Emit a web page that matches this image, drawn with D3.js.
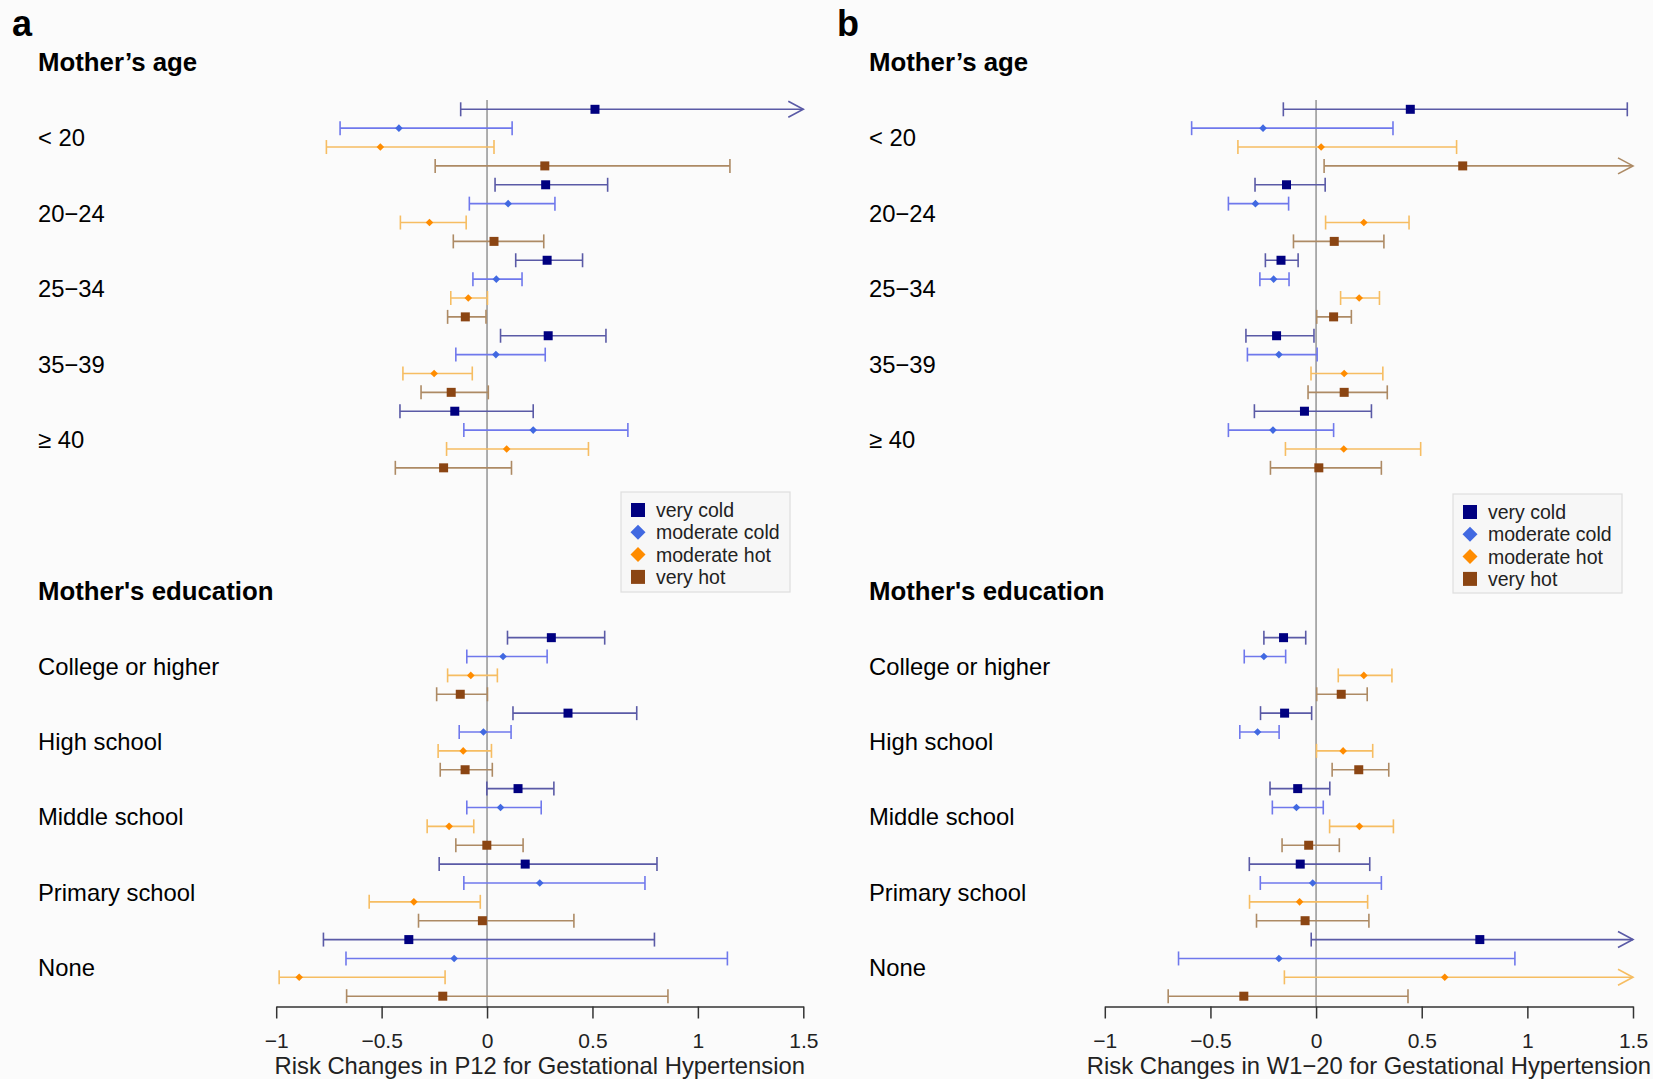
<!DOCTYPE html>
<html><head><meta charset="utf-8">
<script src="https://cdn.jsdelivr.net/npm/d3@7"></script>
<style>body{margin:0;background:#fbfbfb} svg{display:block;font-family:"Liberation Sans",Arial,sans-serif}</style>
</head><body><svg id="c" width="1653" height="1079"></svg>
<script>
// ---------- data ----------
const seriesNames = ["very cold", "moderate cold", "moderate hot", "very hot"];
const seriesColors = ["#000080", "#4169E1", "#FF8C00", "#8B4513"];
const seriesLineColors = ["#5a5aa6", "#6f78ec", "#f6bd62", "#ad8a64"];
const seriesShapes = ["square", "diamond", "diamond", "square"];
const ageGroups = ["< 20", "20\u221224", "25\u221234", "35\u221239", "\u2265 40"];
const eduGroups = ["College or higher", "High school", "Middle school", "Primary school", "None"];
const xTicks = [-1, -0.5, 0, 0.5, 1, 1.5];
const xTickLabels = ["\u22121", "\u22120.5", "0", "0.5", "1", "1.5"];

// rows: [estimate, lower, upper], ordered group by group, series within group
const p12Age = [
  [0.512, -0.125, 1.9], [-0.418, -0.697, 0.119], [-0.506, -0.762, 0.033], [0.274, -0.246, 1.152],
  [0.278, 0.038, 0.572], [0.100, -0.084, 0.322], [-0.273, -0.411, -0.099], [0.033, -0.160, 0.269],
  [0.285, 0.136, 0.453], [0.044, -0.067, 0.166], [-0.089, -0.172, 0.002], [-0.103, -0.187, -0.005],
  [0.290, 0.064, 0.564], [0.042, -0.148, 0.276], [-0.251, -0.399, -0.070], [-0.170, -0.313, 0.006],
  [-0.153, -0.413, 0.219], [0.219, -0.110, 0.668], [0.093, -0.192, 0.481], [-0.206, -0.435, 0.116]
];
const p12Edu = [
  [0.305, 0.097, 0.558], [0.076, -0.096, 0.285], [-0.077, -0.187, 0.049], [-0.127, -0.239, 0.002],
  [0.384, 0.123, 0.710], [-0.017, -0.132, 0.114], [-0.113, -0.232, 0.021], [-0.104, -0.222, 0.025],
  [0.147, -0.001, 0.317], [0.064, -0.096, 0.257], [-0.180, -0.284, -0.063], [-0.001, -0.148, 0.171],
  [0.181, -0.227, 0.806], [0.250, -0.110, 0.749], [-0.347, -0.559, -0.032], [-0.022, -0.325, 0.412],
  [-0.371, -0.776, 0.794], [-0.156, -0.669, 1.140], [-0.891, -0.986, -0.199], [-0.210, -0.666, 0.858]
];
const w120Age = [
  [0.446, -0.155, 1.473], [-0.251, -0.589, 0.364], [0.024, -0.370, 0.665], [0.694, 0.038, 1.9],
  [-0.140, -0.289, 0.043], [-0.287, -0.415, -0.130], [0.226, 0.045, 0.440], [0.086, -0.107, 0.321],
  [-0.166, -0.240, -0.085], [-0.201, -0.266, -0.128], [0.204, 0.116, 0.300], [0.083, 0.003, 0.167],
  [-0.187, -0.332, -0.010], [-0.176, -0.325, 0.005], [0.133, -0.024, 0.316], [0.133, -0.038, 0.337],
  [-0.055, -0.292, 0.262], [-0.204, -0.415, 0.083], [0.131, -0.145, 0.495], [0.013, -0.216, 0.309]
];
const w120Edu = [
  [-0.154, -0.247, -0.049], [-0.247, -0.340, -0.144], [0.226, 0.105, 0.359], [0.119, 0.003, 0.242],
  [-0.149, -0.263, -0.021], [-0.277, -0.361, -0.175], [0.128, 0.002, 0.268], [0.202, 0.076, 0.344],
  [-0.087, -0.218, 0.065], [-0.093, -0.207, 0.034], [0.205, 0.064, 0.366], [-0.035, -0.161, 0.110],
  [-0.075, -0.316, 0.254], [-0.016, -0.264, 0.309], [-0.078, -0.315, 0.244], [-0.052, -0.282, 0.250],
  [0.775, -0.023, 1.9], [-0.176, -0.651, 0.941], [0.609, -0.150, 1.9], [-0.342, -0.700, 0.435]
];

// ---------- layout ----------
const svg = d3.select("#c");
const y = d3.scaleLinear().domain([0, 47]).range([109.3, 109.3 + 47 * 18.87]);
const axisY = 1006.5;
const ageStart = 0, eduStart = 28;

const panels = [
  { letter: "a", letterX: 12, labelX: 38, range: [276.2, 803.3], age: p12Age, edu: p12Edu,
    title: "Risk Changes in P12 for Gestational Hypertension", legend: { x: 621, y: 492, w: 169, h: 100 } },
  { letter: "b", letterX: 837, labelX: 869, range: [1104.8, 1633], age: w120Age, edu: w120Edu,
    title: "Risk Changes in W1\u221220 for Gestational Hypertension", legend: { x: 1453, y: 494, w: 169, h: 99 } }
];

function symbolPath(shape, cx, cy, s) {
  if (shape === "square") return `M${cx - s},${cy - s}H${cx + s}V${cy + s}H${cx - s}Z`;
  return `M${cx},${cy - s}L${cx + s},${cy}L${cx},${cy + s}L${cx - s},${cy}Z`;
}

panels.forEach(p => {
  const x = d3.scaleLinear().domain([-1, 1.5]).range(p.range);
  const g = svg.append("g");

  // panel letter
  g.append("text").attr("x", p.letterX).attr("y", 36).attr("font-size", 36).attr("font-weight", "bold").text(p.letter);

  // headings
  g.append("text").attr("x", p.labelX).attr("y", y(-2.5)).attr("dy", "0.36em")
    .attr("font-size", 25.8).attr("font-weight", "bold").text("Mother\u2019s age");
  g.append("text").attr("x", p.labelX).attr("y", y(25.5)).attr("dy", "0.36em")
    .attr("font-size", 25.8).attr("font-weight", "bold").text("Mother's education");

  // group labels
  ageGroups.forEach((lab, i) => g.append("text").attr("x", p.labelX).attr("y", y(ageStart + 4 * i + 1.5))
    .attr("dy", "0.36em").attr("font-size", 23.8).text(lab));
  eduGroups.forEach((lab, i) => g.append("text").attr("x", p.labelX).attr("y", y(eduStart + 4 * i + 1.5))
    .attr("dy", "0.36em").attr("font-size", 23.8).text(lab));

  // zero line
  g.append("line").attr("x1", x(0)).attr("x2", x(0)).attr("y1", 100).attr("y2", axisY)
    .attr("stroke", "#a5a5a5").attr("stroke-width", 1.8);

  // error bars
  const rows = [];
  p.age.forEach((r, i) => rows.push({ pos: ageStart + i, s: i % 4, est: r[0], lo: r[1], hi: r[2] }));
  p.edu.forEach((r, i) => rows.push({ pos: eduStart + i, s: i % 4, est: r[0], lo: r[1], hi: r[2] }));

  rows.forEach(r => {
    const yy = y(r.pos);
    const col = seriesLineColors[r.s];
    const arrow = r.hi > 1.5;
    const x1 = x(r.lo), x2 = x(Math.min(r.hi, 1.5));
    g.append("line").attr("x1", x1).attr("x2", x2).attr("y1", yy).attr("y2", yy)
      .attr("stroke", col).attr("stroke-width", 1.6);
    g.append("line").attr("x1", x1).attr("x2", x1).attr("y1", yy - 7).attr("y2", yy + 7)
      .attr("stroke", col).attr("stroke-width", 1.6);
    if (arrow) {
      g.append("path").attr("d", `M${x2 - 15},${yy - 8}L${x2},${yy}L${x2 - 15},${yy + 8}`)
        .attr("fill", "none").attr("stroke", col).attr("stroke-width", 1.6);
    } else {
      g.append("line").attr("x1", x2).attr("x2", x2).attr("y1", yy - 7).attr("y2", yy + 7)
        .attr("stroke", col).attr("stroke-width", 1.6);
    }
    const sz = seriesShapes[r.s] === "square" ? 4.5 : 3.8;
    g.append("path").attr("d", symbolPath(seriesShapes[r.s], x(r.est), yy, sz)).attr("fill", seriesColors[r.s]);
  });

  // x axis
  const ax = g.append("g").attr("transform", `translate(0,${axisY})`)
    .call(d3.axisBottom(x).tickValues(xTicks).tickFormat((d, i) => xTickLabels[i]).tickSize(12).tickSizeOuter(0));
  ax.select(".domain").attr("stroke", "#333").attr("stroke-width", 1.5);
  ax.selectAll(".tick line").attr("stroke", "#333").attr("stroke-width", 1.5);
  ax.selectAll(".tick text").attr("font-size", 21).attr("fill", "#222").attr("y", 27)
    .attr("font-family", "Liberation Sans, Arial, sans-serif");

  g.append("text").attr("x", (p.range[0] + p.range[1]) / 2).attr("y", 1074)
    .attr("text-anchor", "middle").attr("font-size", 23.8).attr("fill", "#222").text(p.title);

  // legend
  const L = p.legend;
  const lg = g.append("g").attr("transform", `translate(${L.x},${L.y})`);
  lg.append("rect").attr("width", L.w).attr("height", L.h).attr("fill", "#f7f7f7").attr("stroke", "#dedede").attr("stroke-width", 1.2);
  seriesNames.forEach((nm, i) => {
    const cy = 18 + i * 22.3;
    const sz = seriesShapes[i] === "square" ? 7 : 7.5;
    lg.append("path").attr("d", symbolPath(seriesShapes[i], 17, cy, sz)).attr("fill", seriesColors[i]);
    lg.append("text").attr("x", 35).attr("y", cy).attr("dy", "0.36em").attr("font-size", 19.5).attr("fill", "#222").text(nm);
  });
});
</script></body></html>
